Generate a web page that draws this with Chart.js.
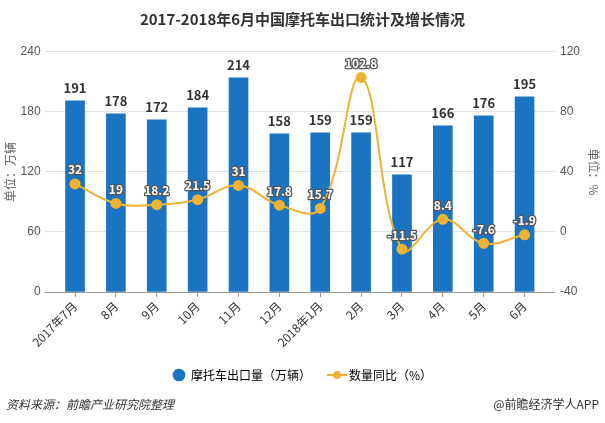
<!DOCTYPE html>
<html>
<head>
<meta charset="utf-8">
<script src="https://cdn.jsdelivr.net/npm/chart.js@4.4.1/dist/chart.umd.min.js"></script>
<style>
  html, body { margin: 0; padding: 0; background: #fff; }
  #wrap { width: 605px; height: 423px; position: relative; }
</style>
</head>
<body>
<div id="wrap"><canvas id="exportChart"></canvas></div>
<script>
const months = ['2017年7月', '8月', '9月', '10月', '11月', '12月', '2018年1月', '2月', '3月', '4月', '5月', '6月'];
const exportVolume = [191, 178, 172, 184, 214, 158, 159, 159, 117, 166, 176, 195];
const yoyGrowth = [32, 19, 18.2, 21.5, 31, 17.8, 15.7, 102.8, -11.5, 8.4, -7.6, -1.9];
const leftTicks = [0, 60, 120, 180, 240];
const rightTicks = [-40, 0, 40, 80, 120];

const barColor = '#1b74c1';
const lineColor = '#efb332';
const cjk = '"Noto Sans CJK SC", "Noto Sans", sans-serif';

// legend icon for the line series: short line with a dot
const lineIcon = document.createElement('canvas');
lineIcon.width = 22;
lineIcon.height = 10;
(function () {
    const c = lineIcon.getContext('2d');
    c.strokeStyle = lineColor;
    c.lineWidth = 2;
    c.beginPath();
    c.moveTo(1, 5);
    c.lineTo(21, 5);
    c.stroke();
    c.fillStyle = lineColor;
    c.beginPath();
    c.arc(11, 5, 4, 0, Math.PI * 2);
    c.fill();
})();

const valueLabels = {
    id: 'valueLabels',
    afterDatasetsDraw(chart) {
        const ctx = chart.ctx;
        ctx.save();
        ctx.textAlign = 'center';
        ctx.textBaseline = 'middle';

        chart.getDatasetMeta(1).data.forEach((bar, i) => {
            ctx.font = 'bold 13px ' + cjk;
            ctx.fillStyle = '#333';
            ctx.fillText(String(exportVolume[i]), bar.x, bar.y - 13);
        });

        chart.getDatasetMeta(0).data.forEach((pt, i) => {
            ctx.font = 'bold 12px ' + cjk;
            ctx.lineJoin = 'round';
            ctx.lineWidth = 2.5;
            ctx.strokeStyle = '#555';
            ctx.strokeText(String(yoyGrowth[i]), pt.x, pt.y - 14);
            ctx.fillStyle = '#fff';
            ctx.fillText(String(yoyGrowth[i]), pt.x, pt.y - 14);
        });
        ctx.restore();
    }
};

const sideTexts = {
    id: 'sideTexts',
    afterDraw(chart) {
        const ctx = chart.ctx;
        ctx.save();
        ctx.fillStyle = '#666';
        ctx.font = '12px ' + cjk;
        ctx.textAlign = 'center';
        ctx.textBaseline = 'middle';

        ctx.save();
        ctx.translate(10, 172);
        ctx.rotate(-Math.PI / 2);
        ctx.fillText('单位：万辆', 0, 0);
        ctx.restore();

        ctx.save();
        ctx.translate(594, 172);
        ctx.rotate(Math.PI / 2);
        ctx.fillText('单位：%', 0, 0);
        ctx.restore();

        ctx.fillStyle = '#333';
        ctx.textAlign = 'left';
        ctx.font = 'italic 12px ' + cjk;
        ctx.fillText('资料来源：前瞻产业研究院整理', 6, 404);
        ctx.textAlign = 'right';
        ctx.font = '12px ' + cjk;
        ctx.fillText('@前瞻经济学人APP', 599, 404);
        ctx.restore();
    }
};

new Chart(document.getElementById('exportChart'), {
    type: 'bar',
    data: {
        labels: months,
        datasets: [{
            type: 'line',
            label: '数量同比（%）',
            data: yoyGrowth,
            yAxisID: 'y1',
            borderColor: lineColor,
            backgroundColor: lineColor,
            borderWidth: 2,
            tension: 0.4,
            pointRadius: 4.5,
            pointBackgroundColor: lineColor,
            pointBorderColor: lineColor,
            order: 0
        }, {
            label: '摩托车出口量（万辆）',
            data: exportVolume,
            yAxisID: 'y',
            backgroundColor: barColor,
            barThickness: 19,
            order: 1
        }]
    },
    options: {
        responsive: true,
        maintainAspectRatio: false,
        animation: false,
        layout: { padding: { left: 0, right: 0, top: 0, bottom: 32 } },
        plugins: {
            title: {
                display: true,
                text: '2017-2018年6月中国摩托车出口统计及增长情况',
                color: '#333',
                font: { family: cjk, size: 15, weight: 'bold' },
                padding: { top: 10, bottom: 23.8 }
            },
            legend: {
                position: 'bottom',
                labels: {
                    usePointStyle: true,
                    color: '#333',
                    padding: 20,
                    boxHeight: 9,
                    font: { family: cjk, size: 12 },
                    generateLabels(chart) {
                        return [
                            { text: '摩托车出口量（万辆）', fillStyle: barColor, strokeStyle: barColor, lineWidth: 0, pointStyle: 'circle', datasetIndex: 1 },
                            { text: '数量同比（%）', fillStyle: lineColor, strokeStyle: lineColor, lineWidth: 0, pointStyle: lineIcon, datasetIndex: 0 }
                        ];
                    }
                }
            },
            tooltip: { enabled: false }
        },
        scales: {
            x: {
                afterFit(scale) { scale.height = 57; },
                border: { display: false },
                grid: { display: true, drawOnChartArea: false, offset: false, tickLength: 5, color: '#999' },
                ticks: {
                    color: '#333',
                    maxRotation: 45,
                    minRotation: 45,
                    autoSkip: false,
                    padding: 2,
                    font: { family: cjk, size: 12 }
                }
            },
            y: {
                position: 'left',
                min: 0,
                max: 240,
                afterFit(scale) { scale.width = 54.6; },
                afterBuildTicks(scale) { scale.ticks = leftTicks.map(v => ({ value: v })); },
                border: { display: false },
                grid: {
                    tickLength: 10,
                    color: ctx => (ctx.tick && ctx.tick.value === 0 ? '#999' : '#e3e3e3')
                },
                ticks: { color: '#555', padding: 4, font: { family: '"Liberation Sans Narrow", "Liberation Sans", sans-serif', size: 12 } }
            },
            y1: {
                position: 'right',
                min: -40,
                max: 120,
                afterFit(scale) { scale.width = 60; },
                afterBuildTicks(scale) { scale.ticks = rightTicks.map(v => ({ value: v })); },
                border: { display: false },
                grid: {
                    drawOnChartArea: false,
                    tickLength: 10,
                    color: ctx => (ctx.tick && ctx.tick.value === -40 ? '#999' : '#e3e3e3')
                },
                ticks: { color: '#555', padding: 5, font: { family: '"Liberation Sans Narrow", "Liberation Sans", sans-serif', size: 12 } }
            }
        }
    },
    plugins: [valueLabels, sideTexts]
});
</script>
</body>
</html>
